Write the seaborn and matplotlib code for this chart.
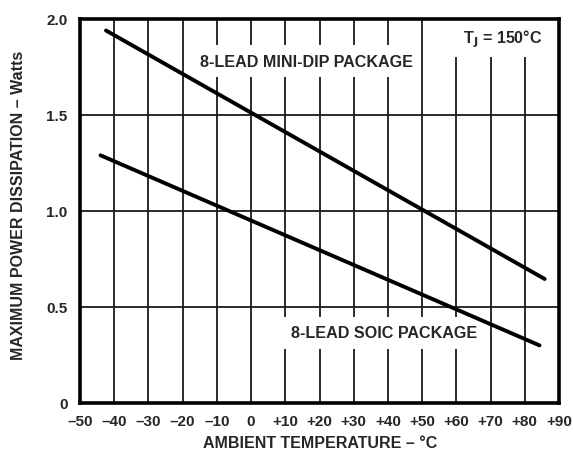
import pandas as pd
import matplotlib.pyplot as plt
import seaborn as sns

# 读取曲线端点数据
temp_mini = [-42.4, 85.8]
power_mini = [1.94, 0.646]
temp_soic = [-44.0, 84.3]
power_soic = [1.29, 0.30]

x_ticks = [-50, -40, -30, -20, -10, 0, 10, 20, 30, 40, 50, 60, 70, 80, 90]
x_labels = ['–50', '–40', '–30', '–20', '–10', '0', '+10', '+20', '+30',
            '+40', '+50', '+60', '+70', '+80', '+90']
y_ticks = [0, 0.5, 1.0, 1.5, 2.0]
y_labels = ['0', '0.5', '1.0', '1.5', '2.0']

data = pd.DataFrame({
    'temp': temp_mini + temp_soic,
    'power': power_mini + power_soic,
    'package': ['mini'] * len(temp_mini) + ['soic'] * len(temp_soic),
})

sns.set_style('white')
plt.rcParams['font.family'] = ['Liberation Sans', 'DejaVu Sans']
plt.rcParams['font.weight'] = 'bold'

fig = plt.figure(figsize=(5.73, 4.52), dpi=100)
ax = fig.add_axes([0.1396, 0.1062, 0.836, 0.8496])

sns.lineplot(data=data, x='temp', y='power', hue='package',
             palette=['black', 'black'], linewidth=2.8, legend=False, ax=ax,
             zorder=4)

ax.set_xlim(-50, 90)
ax.set_ylim(0, 2.0)
ax.set_xticks(x_ticks)
ax.set_xticklabels(x_labels)
ax.set_yticks(y_ticks)
ax.set_yticklabels(y_labels)
ax.tick_params(axis='both', length=0, labelsize=11)
ax.tick_params(axis='x', pad=8)
ax.tick_params(axis='y', pad=9)
ax.grid(True, color='#1a1a1a', linewidth=1.3)
ax.set_axisbelow(True)
for s in ax.spines.values():
    s.set_linewidth(2.6)
    s.set_color('black')
    s.set_zorder(5)

ax.set_xlabel('')
ax.set_ylabel('')
fig.text(0.558, 0.009, 'AMBIENT TEMPERATURE – °C', ha='center', va='baseline',
         fontsize=11.5, fontweight='bold')
fig.text(0.032, 1 - 205 / 452, 'MAXIMUM POWER DISSIPATION – Watts', rotation=90,
         ha='center', va='center', fontsize=11.5, fontweight='bold')

box = dict(facecolor='white', edgecolor='none', pad=6)
ax.text(16.1, 1.781, '8-LEAD MINI-DIP PACKAGE', ha='center', va='center',
        fontsize=11.6, fontweight='bold', bbox=box, zorder=3)
ax.text(38.9, 0.365, '8-LEAD SOIC PACKAGE', ha='center', va='center',
        fontsize=11.6, fontweight='bold', bbox=box, zorder=3)
ax.text(73.7, 1.9, r'T$_\mathbf{J}$ = 150°C', ha='center', va='center',
        fontsize=11.6, fontweight='bold', bbox=box, zorder=3)

plt.savefig('out.png', dpi=100)
